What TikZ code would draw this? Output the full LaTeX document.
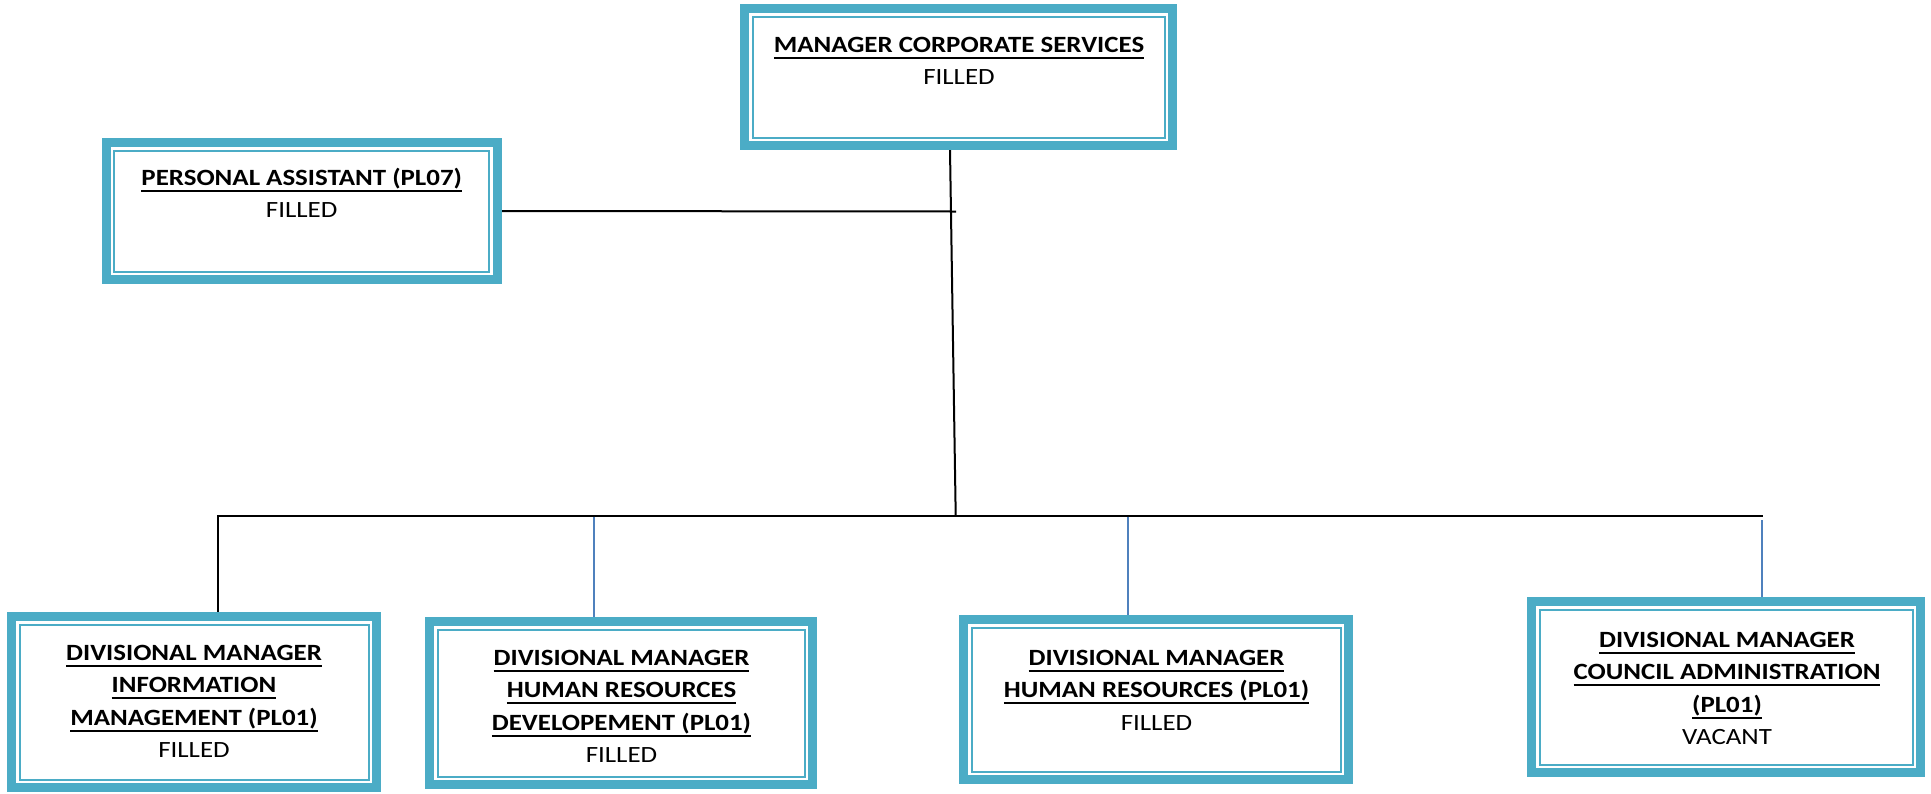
\documentclass[tikz,border=0pt]{standalone}
\usepackage{fontspec}
\setmainfont{Carlito}[FakeStretch=1.155]
\definecolor{teal5}{HTML}{4BACC6}
\definecolor{blue1}{HTML}{4F81BD}
\pgfdeclarelayer{bg}\pgfsetlayers{bg,main}
\newcommand\orgul[1]{\setbox0=\hbox{\bfseries #1}\rlap{\rule[-3.3pt]{\wd0}{1pt}}\box0}
\tikzset{
  orgframe/.style 2 args={draw=teal5, line width=4.5pt, rectangle, inner sep=0pt, outer sep=0pt,
    minimum width=#1*0.5pt-4.5pt, minimum height=#2*0.5pt-4.5pt,
    path picture={\draw[teal5,line width=1pt]
      ([shift={(4pt,-4pt)}]path picture bounding box.north west) rectangle
      ([shift={(-4pt,4pt)}]path picture bounding box.south east);}},
  txt/.style={align=center, inner sep=0pt, outer sep=0pt, anchor=north,
    font=\fontsize{11.65}{16.25}\selectfont},
  conn/.style={draw=black, line width=1pt},
  bconn/.style={draw=blue1, line width=0.75pt}
}
\begin{document}
\begin{tikzpicture}[x=0.5pt,y=-0.5pt]
\useasboundingbox (0,0) rectangle (1931,793);
% frames
\node[orgframe={437}{146}] (mcs) at (958.5,77) {};
\node[orgframe={400}{146}] (pa) at (301.7,211) {};
\node[orgframe={374}{180}] (b1) at (194,702) {};
\node[orgframe={392}{172}] (b2) at (621,703) {};
\node[orgframe={394}{169}] (b3) at (1156,699.5) {};
\node[orgframe={398}{180}] (b4) at (1726,687) {};
% texts
\node[txt] (mcs-t) at (959,32) {\rule{0pt}{10pt}\orgul{MANAGER CORPORATE SERVICES}\\FILLED};
\node[txt] (pa-t) at (301.7,165) {\rule{0pt}{10pt}\orgul{PERSONAL ASSISTANT (PL07)}\\FILLED};
\node[txt] (b1-t) at (194,640) {\rule{0pt}{10pt}\orgul{DIVISIONAL MANAGER}\\\orgul{INFORMATION}\\\orgul{MANAGEMENT (PL01)}\\FILLED};
\node[txt] (b2-t) at (621.5,645) {\rule{0pt}{10pt}\orgul{DIVISIONAL MANAGER}\\\orgul{HUMAN RESOURCES}\\\orgul{DEVELOPEMENT (PL01)}\\FILLED};
\node[txt] (b3-t) at (1156.5,645) {\rule{0pt}{10pt}\orgul{DIVISIONAL MANAGER}\\\orgul{HUMAN RESOURCES (PL01)}\\FILLED};
\node[txt] (b4-t) at (1727,627) {\rule{0pt}{10pt}\orgul{DIVISIONAL MANAGER}\\\orgul{COUNCIL ADMINISTRATION}\\\orgul{(PL01)}\\VACANT};
% connector points
\coordinate (ttop) at (950,150);
\coordinate (jc) at (955.7,515.5);
\coordinate (pj) at (956,211.5);
\coordinate (hl) at (218,515.5);
\coordinate (hr) at (1763,515.5);
\coordinate (c2) at (594,516.5);
\coordinate (c3) at (1128,516.5);
\coordinate (c4) at (1762,520);
\begin{pgfonlayer}{bg}
\draw[conn] (ttop) -- (jc);
\draw[conn] (pa.east) -- (pj);
\draw[conn] (b1.north -| hl) -- (hl) -- (hr);
\draw[bconn] (c2) -- (b2.north -| c2);
\draw[bconn] (c3) -- (b3.north -| c3);
\draw[bconn] (c4) -- (b4.north -| c4);
\end{pgfonlayer}
\end{tikzpicture}
\end{document}
